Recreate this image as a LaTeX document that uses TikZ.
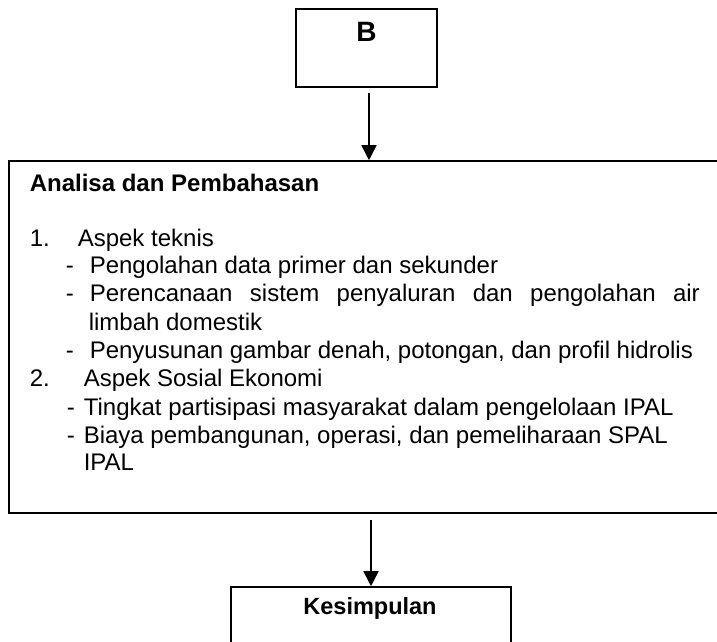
\documentclass[tikz,border=0pt]{standalone}
\usepackage{fontspec}
\setmainfont{Liberation Sans}
\usetikzlibrary{arrows.meta}

\begin{document}
\begin{tikzpicture}[x=1pt, y=-1pt, line width=1.6pt,
    >={Triangle[width=15pt,length=15pt]},
    kotak/.style={draw, rectangle, inner sep=0pt},
    baris/.style={anchor=base west, inner sep=0pt, font=\fontsize{24}{28}\selectfont},
    tebal/.style={inner sep=0pt, font=\fontsize{#1}{#1}\selectfont\bfseries}]
    
    \clip (0,0) rectangle (717,641);
    
    % kotak-kotak
    \node[kotak, minimum width=141, minimum height=78] (b) at (366.5,48) {};
    \node[tebal=28] (btxt) at (366.5,32) {B};
    \node[kotak, minimum width=721, minimum height=352] (analisa) at (369.5,337) {};
    \node[kotak, minimum width=280, minimum height=83] (kesimpulan) at (371,628.5) {};
    \node[tebal=23.5] (ktxt) at (370,608) {Kesimpulan};
    
    % isi analisa
    \node[baris, font=\fontsize{24}{28}\selectfont\bfseries] (judul) at (29,191) {Analisa dan Pembahasan};
    \node[baris] (no1) at (29,246) {\makebox[48pt][l]{1.}Aspek teknis};
    \node[baris] (p1) at (65,273) {\makebox[24pt][l]{-}Pengolahan data primer dan sekunder};
    \node[baris] (p2) at (65,301) {\makebox[24pt][l]{-}\makebox[610pt][s]{Perencanaan sistem penyaluran dan pengolahan air}};
    \node[baris] (p2b) at (88,330) {limbah domestik};
    \node[baris] (p3) at (65,358) {\makebox[24pt][l]{-}Penyusunan gambar denah, potongan, dan profil hidrolis};
    \node[baris] (no2) at (29,386) {\makebox[54pt][l]{2.}Aspek Sosial Ekonomi};
    \node[baris] (s1) at (66,415) {\makebox[17pt][l]{-}Tingkat partisipasi masyarakat dalam pengelolaan IPAL};
    \node[baris] (s2) at (66,443) {\makebox[17pt][l]{-}Biaya pembangunan, operasi, dan pemeliharaan SPAL};
    \node[baris] (s2b) at (83,470) {IPAL};
    
    % panah
    \draw[->] ([xshift=2.5pt, yshift=-5pt]b.south) -- ([xshift=2.5pt]b.south |- analisa.north);
    \draw[->] ([yshift=-6pt]analisa.south -| kesimpulan.north) -- (kesimpulan.north);
    
\end{tikzpicture}
\end{document}
